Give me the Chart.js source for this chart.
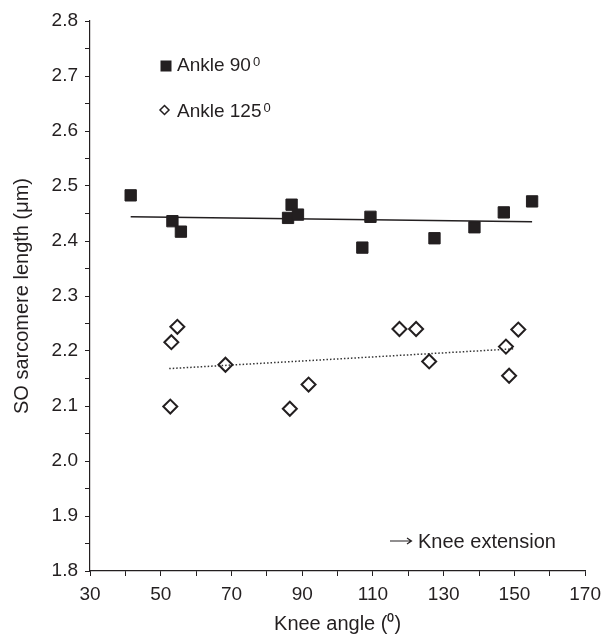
<!DOCTYPE html>
<html>
<head>
<meta charset="utf-8">
<script src="https://cdn.jsdelivr.net/npm/chart.js@4.4.0/dist/chart.umd.min.js"></script>
<style>
  html, body { margin: 0; padding: 0; background: #fff; }
  #wrap { width: 608px; height: 638px; }
</style>
</head>
<body>
<div id="wrap"><canvas id="sarcChart" width="608" height="638"></canvas></div>
<script>
// knee angle (deg) vs SO sarcomere length (um), ankle at 90 deg
const knee90 = [41.5, 53.3, 55.7, 86.0, 87.0, 88.8, 107.0, 109.3, 127.4, 138.7, 147.0, 155.0];
const len90  = [2.483, 2.436, 2.417, 2.442, 2.466, 2.448, 2.388, 2.444, 2.405, 2.425, 2.452, 2.472];

// ankle at 125 deg
const knee125 = [52.7, 53.0, 54.7, 68.3, 86.5, 91.8, 117.5, 122.2, 125.9, 147.6, 148.5, 151.1];
const len125  = [2.099, 2.216, 2.244, 2.175, 2.095, 2.139, 2.240, 2.240, 2.181, 2.208, 2.155, 2.239];

// regression lines, end points
const fit90X  = [41.5, 155.0];
const fit90Y  = [2.444, 2.435];
const fit125X = [52.4, 150.0];
const fit125Y = [2.168, 2.204];

const seriesNames = ['Ankle 90', 'Ankle 125'];

const ink = '#231f20';
const fontFam = '"Liberation Sans", Arial, Helvetica, sans-serif';

function toPoints(xs, ys) {
    return xs.map((x, i) => ({ x: x, y: ys[i] }));
}

// legend + note drawn straight on the canvas
const overlayPlugin = {
    id: 'overlay',
    afterDraw(chart) {
        const ctx = chart.ctx;
        ctx.save();
        ctx.fillStyle = ink;
        ctx.strokeStyle = ink;
        ctx.textBaseline = 'alphabetic';

        // filled square entry
        ctx.fillRect(160.5, 60.5, 11, 11);
        ctx.font = '19px ' + fontFam;
        ctx.fillText(seriesNames[0], 177, 71);
        let w = ctx.measureText(seriesNames[0]).width;
        ctx.font = '13px ' + fontFam;
        ctx.fillText('0', 177 + w + 2, 66);

        // open diamond entry
        ctx.lineWidth = 1.5;
        ctx.beginPath();
        ctx.moveTo(164.5, 105.5);
        ctx.lineTo(169, 110);
        ctx.lineTo(164.5, 114.5);
        ctx.lineTo(160, 110);
        ctx.closePath();
        ctx.stroke();
        ctx.font = '19px ' + fontFam;
        ctx.fillText(seriesNames[1], 177, 117);
        w = ctx.measureText(seriesNames[1]).width;
        ctx.font = '13px ' + fontFam;
        ctx.fillText('0', 177 + w + 2, 112);

        // arrow + note
        ctx.lineWidth = 1.2;
        ctx.beginPath();
        ctx.moveTo(390, 541);
        ctx.lineTo(411, 541);
        ctx.moveTo(407, 538);
        ctx.lineTo(411.5, 541);
        ctx.lineTo(407, 544);
        ctx.stroke();
        ctx.font = '20px ' + fontFam;
        ctx.fillText('Knee extension', 418, 548);
        ctx.restore();
    }
};

const ctx = document.getElementById('sarcChart').getContext('2d');
new Chart(ctx, {
    type: 'scatter',
    data: {
        datasets: [
            {
                label: seriesNames[0],
                data: toPoints(knee90, len90),
                pointStyle: 'rect',
                pointRadius: 8,
                backgroundColor: ink,
                borderColor: ink,
                borderWidth: 1
            },
            {
                label: seriesNames[1],
                data: toPoints(knee125, len125),
                pointStyle: 'rectRot',
                pointRadius: 7,
                backgroundColor: 'rgba(0,0,0,0)',
                borderColor: ink,
                borderWidth: 2
            },
            {
                label: 'fit 90',
                data: toPoints(fit90X, fit90Y),
                showLine: true,
                pointRadius: 0,
                borderColor: ink,
                borderWidth: 1.5
            },
            {
                label: 'fit 125',
                data: toPoints(fit125X, fit125Y),
                showLine: true,
                pointRadius: 0,
                borderColor: '#333',
                borderWidth: 1.5,
                borderDash: [1.5, 2]
            }
        ]
    },
    options: {
        responsive: false,
        animation: false,
        layout: { padding: { left: 0, right: 18, top: 21, bottom: 0 } },
        plugins: {
            legend: { display: false },
            tooltip: { enabled: false }
        },
        scales: {
            x: {
                type: 'linear',
                min: 30,
                max: 170,
                afterFit: (scale) => { scale.height = 67; },
                ticks: {
                    stepSize: 10,
                    autoSkip: false,
                    maxRotation: 0,
                    padding: 7,
                    color: ink,
                    font: { size: 19, family: fontFam },
                    callback: (v) => ((v - 30) % 20 === 0 ? String(v) : '')
                },
                grid: {
                    drawOnChartArea: false,
                    drawTicks: true,
                    tickLength: 5,
                    color: ink
                },
                border: { display: true, color: ink, width: 1.2 },
                title: {
                    display: true,
                    text: 'Knee angle (\u2070)',
                    color: ink,
                    font: { size: 20, family: fontFam },
                    padding: { top: 0, bottom: 2 }
                }
            },
            y: {
                min: 1.8,
                max: 2.8,
                afterFit: (scale) => { scale.width = 90; },
                ticks: {
                    stepSize: 0.05,
                    autoSkip: false,
                    padding: 7,
                    color: ink,
                    font: { size: 19, family: fontFam },
                    callback: (v) => (Math.round(v * 100) % 10 === 0 ? v.toFixed(1) : '')
                },
                grid: {
                    drawOnChartArea: false,
                    drawTicks: true,
                    tickLength: 5,
                    color: ink
                },
                border: { display: true, color: ink, width: 1.2 },
                title: {
                    display: true,
                    text: 'SO sarcomere length (\u03bcm)',
                    color: ink,
                    font: { size: 20, family: fontFam },
                    padding: { top: 10, bottom: 0 }
                }
            }
        }
    },
    plugins: [overlayPlugin]
});
</script>
</body>
</html>
